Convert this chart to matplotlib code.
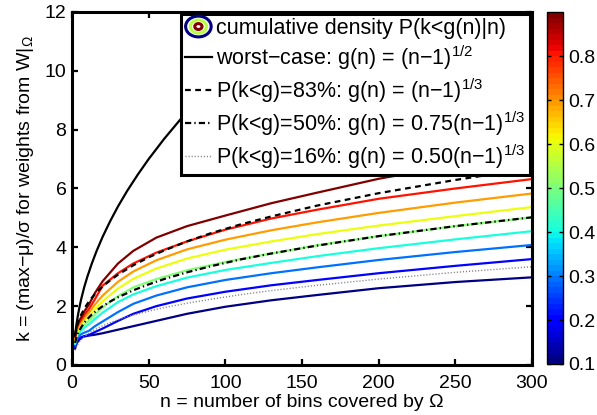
"""
Cumulative density contours of k = (max-mu)/sigma versus number of bins n.
"""
import numpy as np
import matplotlib
matplotlib.use("Agg")
import matplotlib.pyplot as plt
from matplotlib.lines import Line2D
from matplotlib.patches import Ellipse
from matplotlib.legend_handler import HandlerBase
from matplotlib.colors import ListedColormap, Normalize

plt.rcParams['font.family'] = ['Liberation Sans', 'DejaVu Sans']
plt.rcParams['mathtext.fontset'] = 'custom'
plt.rcParams['mathtext.rm'] = 'Liberation Sans'
plt.rcParams['mathtext.it'] = 'Liberation Sans:italic'
plt.rcParams['mathtext.sf'] = 'Liberation Sans'

# contour levels of P(k<g(n)|n)
levels = [0.1, 0.2, 0.3, 0.4, 0.5, 0.6, 0.7, 0.8, 0.9]
n_grid = [2, 3, 4, 6, 8, 11, 15, 20, 30, 40, 55, 75, 100, 130, 160, 200, 250, 300]
k_p10 = [0.55, 0.72, 0.82, 0.92, 0.97, 1.00, 1.03, 1.08, 1.20, 1.32, 1.50, 1.74, 1.98, 2.20, 2.38, 2.61, 2.82, 2.98]
k_p20 = [0.62, 0.80, 0.88, 0.95, 0.98, 1.02, 1.12, 1.24, 1.50, 1.74, 2.00, 2.26, 2.49, 2.71, 2.89, 3.12, 3.37, 3.60]
k_p30 = [0.68, 0.86, 0.96, 1.05, 1.10, 1.16, 1.32, 1.48, 1.80, 2.08, 2.36, 2.64, 2.89, 3.12, 3.32, 3.57, 3.84, 4.08]
k_p40 = [0.72, 0.93, 1.05, 1.17, 1.27, 1.38, 1.57, 1.78, 2.14, 2.40, 2.68, 2.97, 3.23, 3.47, 3.70, 3.97, 4.27, 4.55]
k_p50 = [0.76, 1.00, 1.13, 1.26, 1.37, 1.50, 1.72, 1.96, 2.34, 2.64, 2.92, 3.22, 3.50, 3.79, 4.07, 4.38, 4.72, 5.02]
k_p60 = [0.82, 1.08, 1.22, 1.37, 1.50, 1.65, 1.90, 2.17, 2.60, 2.93, 3.28, 3.62, 3.92, 4.20, 4.45, 4.74, 5.06, 5.37]
k_p70 = [0.88, 1.15, 1.30, 1.46, 1.60, 1.78, 2.06, 2.36, 2.83, 3.18, 3.56, 3.93, 4.26, 4.58, 4.85, 5.17, 5.52, 5.83]
k_p80 = [0.95, 1.22, 1.38, 1.55, 1.70, 1.90, 2.24, 2.70, 3.12, 3.45, 3.82, 4.20, 4.60, 4.98, 5.28, 5.65, 6.00, 6.32]
k_p90 = [1.00, 1.30, 1.45, 1.62, 1.82, 2.05, 2.45, 2.85, 3.45, 3.88, 4.33, 4.72, 5.08, 5.50, 5.86, 6.33, 6.80, 7.20]
contour_k = [k_p10, k_p20, k_p30, k_p40, k_p50, k_p60, k_p70, k_p80, k_p90]

# reference curves g(n)
n_ref = [2, 3, 4, 5, 6, 8, 10, 13, 16, 20, 25, 30, 40, 50, 60, 75, 90, 110, 130, 160, 200, 250, 300]
g_83 = [1.00, 1.26, 1.44, 1.59, 1.71, 1.91, 2.08, 2.29, 2.47, 2.67, 2.88, 3.07, 3.39, 3.66, 3.89,
        4.20, 4.47, 4.78, 5.05, 5.42, 5.84, 6.29, 6.69]
g_50 = [0.75, 0.95, 1.08, 1.19, 1.28, 1.44, 1.56, 1.72, 1.85, 2.00, 2.16, 2.30, 2.54, 2.74, 2.92,
        3.15, 3.35, 3.59, 3.79, 4.06, 4.38, 4.72, 5.02]
g_16 = [0.50, 0.63, 0.72, 0.79, 0.86, 0.96, 1.04, 1.15, 1.23, 1.33, 1.44, 1.54, 1.70, 1.83, 1.95,
        2.10, 2.23, 2.39, 2.53, 2.71, 2.92, 3.15, 3.34]
n_worst = [2, 2.5, 3, 4, 5, 6, 8, 10, 13, 16, 20, 25, 30, 36, 43, 50, 60, 72, 85, 100, 115, 130, 146]
g_worst = [1.00, 1.22, 1.41, 1.73, 2.00, 2.24, 2.65, 3.00, 3.46, 3.87, 4.36, 4.90, 5.39, 5.92, 6.48,
           7.00, 7.68, 8.43, 9.17, 9.95, 10.68, 11.36, 12.04]

labels = ['cumulative density P(k<g(n)|n)',
          'worst\u2212case: g(n) = (n\u22121)$^{\\mathrm{1/2}}$',
          'P(k<g)=83%: g(n) = (n\u22121)$^{\\mathrm{1/3}}$',
          'P(k<g)=50%: g(n) = 0.75(n\u22121)$^{\\mathrm{1/3}}$',
          'P(k<g)=16%: g(n) = 0.50(n\u22121)$^{\\mathrm{1/3}}$']

jet64 = ListedColormap(plt.get_cmap('jet')(np.linspace(0, 1, 64)))
norm = Normalize(vmin=0.1, vmax=0.9)

DASH = (2.6, 2.0)
DASHDOT = (2.8, 1.4, 0.6, 1.4)
DOT = (0.8, 1.4)


class ContourIcon(HandlerBase):
    """Draws the little concentric ellipses used by matlab for contour legends"""
    def create_artists(self, legend, orig_handle, xdescent, ydescent,
                       width, height, fontsize, trans):
        cx = width / 2 - xdescent
        cy = height / 2 - ydescent
        arts = []
        for frac, val in [(0.95, 0.1), (0.6, 0.55), (0.27, 0.9)]:
            e = Ellipse((cx, cy), width * frac, height * 1.45 * frac, fill=False,
                        edgecolor=jet64(norm(val)), lw=2.2, transform=trans)
            arts.append(e)
        return arts


fig = plt.figure(figsize=(5.97, 4.15), dpi=100)
ax = fig.add_axes([0.1206, 0.1205, 0.7705, 0.8506])
cax = fig.add_axes([0.9162, 0.1229, 0.0268, 0.848])

for lev, ks in zip(levels, contour_k):
    ax.plot(n_grid, ks, color=jet64(norm(lev)), lw=1.6)

ax.plot(n_worst, g_worst, color='black', lw=1.6)
ax.plot(n_ref, g_83, color='black', lw=1.6, dashes=DASH)
ax.plot(n_ref, g_50, color='black', lw=1.6, dashes=DASHDOT)
ax.plot(n_ref, g_16, color='#808080', lw=1.0, dashes=DOT)

ax.set_xlim(0, 300)
ax.set_ylim(0, 12)
ax.set_xticks([0, 50, 100, 150, 200, 250, 300])
ax.set_yticks([0, 2, 4, 6, 8, 10, 12])
ax.tick_params(direction='in', length=4, width=1.6, labelsize=14,
               top=True, right=True)
ax.tick_params(axis='x', pad=7)
ax.tick_params(axis='y', pad=4)
for sp in ax.spines.values():
    sp.set_linewidth(2.2)
ax.set_xlabel('n = number of bins covered by \u03a9', fontsize=14, labelpad=2)
ax.set_ylabel('k = (max\u2212\u03bc)/\u03c3 for weights from W$|_{\\Omega}$',
              fontsize=14, labelpad=6)

proxy = Line2D([], [])
handles = [proxy,
           Line2D([], [], color='black', lw=1.6),
           Line2D([], [], color='black', lw=1.6, dashes=DASH),
           Line2D([], [], color='black', lw=1.6, dashes=DASHDOT),
           Line2D([], [], color='#808080', lw=1.0, dashes=DOT)]
leg = ax.legend(handles, labels, loc='upper right', bbox_to_anchor=(0.995, 0.995),
                fontsize=15.5, fancybox=False, framealpha=1, edgecolor='black',
                handlelength=1.25, handletextpad=0.2, borderpad=0.2,
                labelspacing=0.2, borderaxespad=0,
                handler_map={proxy: ContourIcon()})
leg.get_frame().set_linewidth(2.2)

cb = fig.colorbar(plt.cm.ScalarMappable(norm=norm, cmap=jet64), cax=cax)
cb.set_ticks([0.1, 0.2, 0.3, 0.4, 0.5, 0.6, 0.7, 0.8])
cb.ax.tick_params(labelsize=14, direction='in', length=3, width=1, left=True, right=True)
cb.outline.set_linewidth(1.0)

fig.savefig('out.png', dpi=100)
